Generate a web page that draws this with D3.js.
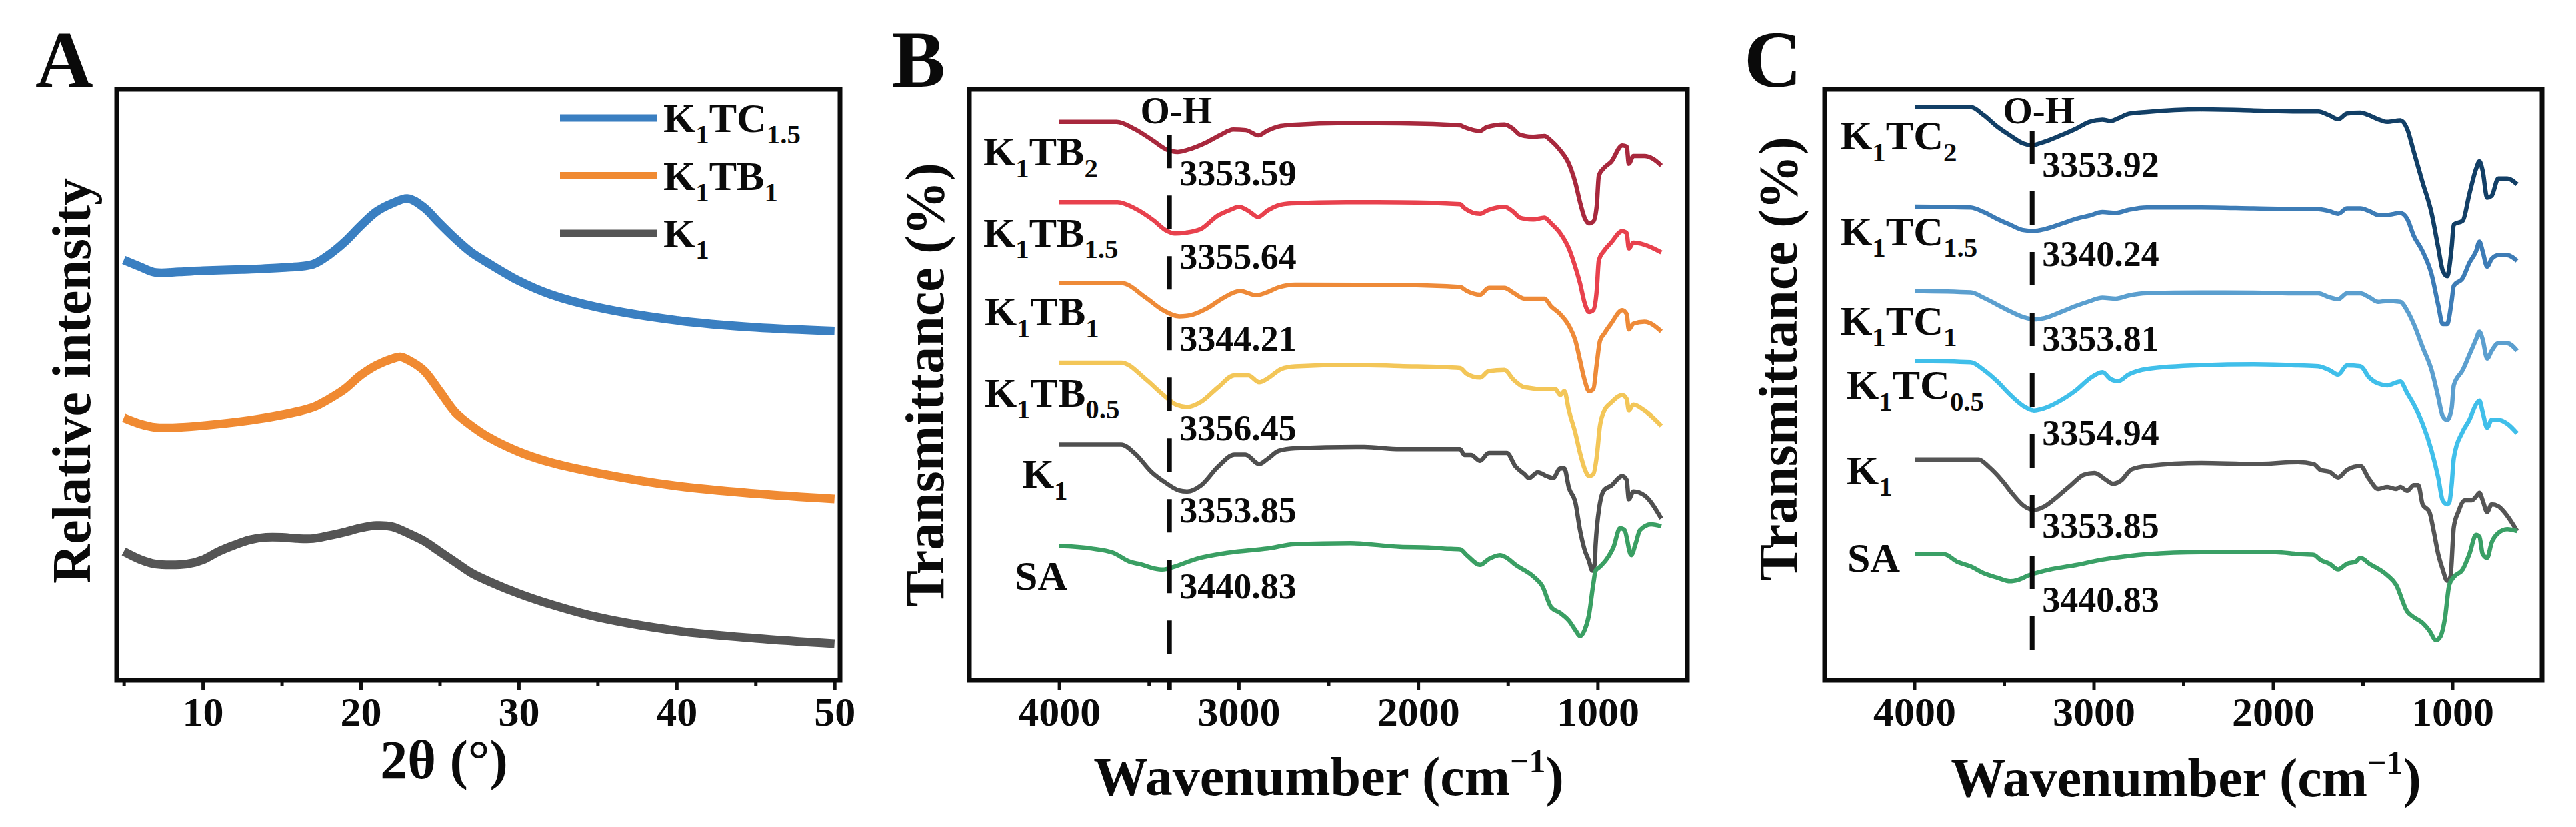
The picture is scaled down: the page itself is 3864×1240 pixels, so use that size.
<!DOCTYPE html>
<html><head><meta charset="utf-8">
<script src="https://cdn.jsdelivr.net/npm/d3@7"></script>
<style>
body{margin:0;background:#fff}
svg{display:block}
text{font-family:"Liberation Serif","Times New Roman",serif;font-weight:bold;fill:#0a0a0a}
</style>
</head><body>
<svg id="chart" width="3864" height="1240"></svg>
<script>
// ---------------- DATA ----------------
// Panel A: XRD, 2θ (deg) vs relative intensity (offset, a.u. 0-100 of frame)
const xrdNames = ["K_1TC_1.5", "K_1TB_1", "K_1"];
const xrdColors = ["#3a7fc1", "#f08a32", "#555555"];
const xrd_K1TC15 = [[5,71.1],[6,70.0],[7,69.0],[8.5,69.1],[10,69.3],[12.5,69.5],[15,69.8],[17,70.4],[18,72.0],[19,74.2],[20,76.9],[21,79.3],[22,80.7],[23,81.5],[24,80.0],[25,77.3],[26,74.7],[27,72.4],[28,70.7],[30,67.6],[32,65.3],[35,63.1],[40,60.9],[45,59.7],[50,59.1]];
const xrd_K1TB1 = [[5,44.4],[6,43.4],[7,42.8],[8.5,42.8],[10,43.1],[13,44.0],[15,44.9],[17,46.2],[18,47.6],[19,49.3],[20,51.6],[21,53.3],[22,54.4],[22.5,54.7],[23,54.2],[24,52.4],[25,48.9],[26,45.3],[27,43.1],[28,41.3],[30,38.7],[32,36.9],[35,35.1],[40,32.9],[45,31.6],[50,30.7]];
const xrd_K1 = [[5,21.8],[6,20.5],[7,19.7],[9,19.7],[10,20.4],[11,21.8],[12,22.9],[13,23.8],[14,24.2],[15,24.2],[16,24.0],[17,24.0],[18,24.5],[19,25.1],[20,25.8],[21,26.2],[22,26.0],[23,24.9],[24,23.6],[25,21.8],[26,20.0],[27,18.2],[28,16.9],[30,14.7],[32,12.9],[35,10.7],[40,8.4],[45,7.1],[50,6.2]];
const xrdTicksMajor = [10,20,30,40,50];
const xrdTicksMinor = [5,15,25,35,45];

// Panel B: FTIR, wavenumber (cm-1) vs transmittance (offset)
const ftirBNames = ["K_1TB_2","K_1TB_1.5","K_1TB_1","K_1TB_0.5","K_1","SA"];
const ftirBColors = ["#a8283d","#e8414d","#ee8a38","#f3c658","#4f4f4f","#3a9f63"];
const ftirBPeaks = ["3353.59","3355.64","3344.21","3356.45","3353.85","3440.83"];
const B_K1TB2 = [[4000,94.5],[3680,94.5],[3580,93.3],[3480,91.4],[3400,89.8],[3340,89.4],[3280,89.8],[3180,91.0],[3100,92.3],[3030,93.2],[2960,93.1],[2890,92.2],[2840,93.0],[2780,93.7],[2700,94.0],[2400,94.3],[2101,94.25],[1766,93.9],[1742,93.6],[1655,92.95],[1618,93.6],[1519,94.06],[1469,93.28],[1432,92.3],[1358,91.97],[1296,92.1],[1259,91.3],[1209,89.7],[1160,87.4],[1123,84.1],[1098,80.9],[1073,78.3],[1048,77.3],[1024,77.6],[1005,80.2],[993,85.4],[962,86.75],[925,87.7],[863,90.5],[838,90.3],[826,87.4],[801,88.7],[739,88.7],[690,88.2],[645,87.1]];
const B_K1TB15 = [[4000,80.9],[3674,80.9],[3581,79.9],[3475,77.85],[3409,76.2],[3355,75.6],[3302,75.7],[3210,76.35],[3117,78.6],[3050,79.55],[2997,80.1],[2944,79.4],[2891,78.4],[2838,79.5],[2785,80.3],[2705,80.7],[2400,80.9],[2101,80.88],[1766,80.55],[1742,79.9],[1655,78.92],[1618,79.45],[1519,80.1],[1469,79.25],[1432,78.27],[1358,77.95],[1296,78.27],[1259,77.3],[1209,75.66],[1160,73.05],[1123,69.79],[1098,67.18],[1073,63.92],[1048,62.29],[1024,62.62],[1005,65.88],[993,71.1],[962,72.73],[925,74.03],[863,75.99],[838,75.66],[826,73.05],[801,74.03],[739,73.7],[645,72.4]];
const B_K1TB1 = [[4000,67.2],[3654,67.2],[3515,64.7],[3423,62.65],[3331,61.58],[3269,61.75],[3177,62.9],[3085,64.7],[2992,65.86],[2900,65.14],[2845,65.6],[2777,66.48],[2685,66.93],[2101,66.86],[1766,66.53],[1729,65.88],[1655,65.23],[1606,66.4],[1519,66.4],[1469,65.55],[1407,64.57],[1296,64.57],[1259,63.27],[1209,61.96],[1160,60.0],[1123,57.4],[1098,54.14],[1073,50.87],[1048,48.92],[1024,49.24],[1005,53.48],[987,57.4],[962,58.7],[925,60.33],[863,62.62],[838,61.96],[826,59.35],[801,60.33],[739,60.66],[645,59.03]];
const B_K1TB05 = [[4000,53.73],[3654,53.73],[3515,50.87],[3423,48.37],[3346,46.6],[3285,46.23],[3208,47.12],[3115,49.53],[3023,51.59],[2946,51.59],[2885,50.42],[2838,51.05],[2762,52.66],[2685,53.1],[2377,53.37],[2101,53.16],[1766,52.83],[1729,51.85],[1655,51.2],[1606,52.31],[1519,52.5],[1469,50.87],[1407,49.57],[1296,49.24],[1234,49.24],[1209,48.26],[1185,48.92],[1160,45.65],[1123,41.74],[1098,38.48],[1073,35.87],[1048,34.57],[1024,34.89],[1005,37.83],[987,43.05],[962,45.65],[925,46.96],[863,48.26],[838,47.6],[826,45.65],[801,46.63],[739,45.65],[645,43.05]];
const B_K1 = [[4000,39.9],[3654,39.9],[3577,38.38],[3485,35.26],[3408,33.48],[3331,32.14],[3285,31.96],[3208,33.03],[3115,36.15],[3023,38.2],[2962,38.2],[2885,36.6],[2838,37.49],[2777,38.83],[2685,39.27],[2300,39.5],[2101,39.13],[1766,39.13],[1742,38.15],[1705,38.15],[1655,37.17],[1606,38.48],[1506,38.48],[1457,36.2],[1407,34.89],[1383,34.24],[1333,35.22],[1284,34.57],[1247,34.24],[1209,35.87],[1185,35.87],[1160,32.61],[1123,30.0],[1098,25.43],[1073,22.17],[1048,20.21],[1030,18.58],[1017,19.56],[1011,23.0],[987,30.0],[962,32.28],[925,32.93],[863,34.57],[838,33.91],[826,30.65],[801,31.96],[739,31.3],[645,27.39]];
const B_SA = [[4000,22.77],[3823,22.33],[3700,21.62],[3608,20.1],[3546,19.65],[3469,18.94],[3423,18.76],[3362,19.2],[3238,20.54],[3054,21.62],[2838,22.33],[2685,23.04],[2377,23.22],[2101,22.6],[1940,22.5],[1853,22.3],[1766,22.17],[1729,21.2],[1655,19.56],[1606,20.54],[1544,21.2],[1506,20.74],[1457,19.56],[1358,17.6],[1308,15.97],[1259,12.39],[1209,11.41],[1160,10.1],[1123,8.47],[1098,7.49],[1073,8.47],[1048,11.08],[1024,16.3],[1011,18.58],[987,19.23],[949,20.54],[912,22.5],[875,25.76],[850,25.43],[813,21.2],[788,23.15],[764,25.43],[702,26.41],[645,26.09]];
const ftirBSeries = [B_K1TB2, B_K1TB15, B_K1TB1, B_K1TB05, B_K1, B_SA];
const ohB = 3385;

// Panel C
const ftirCNames = ["K_1TC_2","K_1TC_1.5","K_1TC_1","K_1TC_0.5","K_1","SA"];
const ftirCColors = ["#123f66","#3d7cb6","#5b9fcf","#40bfea","#555555","#3aa066"];
const ftirCPeaks = ["3353.92","3340.24","3353.81","3354.94","3353.85","3440.83"];
const C_K1TC2 = [[3998,97.0],[3686,97.0],[3613,95.63],[3539,93.73],[3466,92.2],[3392,90.83],[3341,90.52],[3304,90.83],[3245,91.44],[3172,92.35],[3098,93.34],[3025,94.49],[2951,94.87],[2907,94.64],[2863,95.1],[2804,95.86],[2704,96.17],[2400,96.6],[2108,96.43],[1860,96.24],[1748,96.24],[1686,95.59],[1637,94.94],[1587,95.91],[1513,96.04],[1463,95.59],[1414,94.94],[1364,94.49],[1290,94.75],[1252,93.32],[1215,89.43],[1166,84.25],[1116,79.06],[1079,73.23],[1054,69.34],[1029,68.37],[1004,73.23],[992,77.12],[942,77.77],[905,82.3],[868,86.52],[849,87.81],[831,86.19],[806,81.66],[781,81.98],[744,84.9],[694,84.9],[639,83.92]];
const C_K1TC15 = [[3998,80.14],[3686,79.99],[3613,79.22],[3539,78.08],[3466,77.08],[3392,76.17],[3333,76.02],[3274,76.32],[3172,77.31],[3098,78.08],[3025,78.61],[2951,79.22],[2878,79.07],[2804,79.6],[2704,79.99],[2400,80.0],[2108,79.84],[1860,79.71],[1748,79.71],[1686,79.39],[1637,78.93],[1587,79.84],[1513,79.84],[1463,79.39],[1414,78.74],[1364,78.74],[1290,79.06],[1252,78.09],[1215,75.18],[1166,72.58],[1116,68.69],[1079,63.51],[1054,60.27],[1029,60.27],[1004,64.16],[992,66.75],[942,68.05],[905,70.64],[868,72.58],[849,74.2],[831,72.58],[806,69.99],[781,71.29],[744,71.93],[694,71.93],[639,70.96]];
const C_K1TC1 = [[3998,65.86],[3686,65.63],[3613,64.72],[3539,63.57],[3466,62.43],[3392,61.44],[3333,61.05],[3274,61.28],[3172,62.43],[3098,63.34],[3025,64.11],[2951,64.72],[2878,64.56],[2804,65.1],[2704,65.48],[2400,65.6],[2108,65.58],[1860,65.45],[1748,65.45],[1686,64.8],[1637,64.48],[1587,65.45],[1513,65.45],[1463,64.8],[1414,64.03],[1364,64.16],[1290,64.03],[1252,62.54],[1215,60.27],[1166,56.38],[1116,52.49],[1079,47.95],[1054,44.72],[1029,44.07],[1004,46.01],[992,49.9],[942,52.49],[905,55.08],[868,57.68],[849,58.97],[831,57.68],[806,54.44],[781,55.73],[744,57.03],[694,57.03],[639,55.73]];
const C_K1TC05 = [[3998,54.03],[3686,53.8],[3613,52.5],[3539,50.6],[3466,48.31],[3392,46.4],[3333,45.64],[3274,46.02],[3172,47.54],[3098,49.07],[3025,50.98],[2951,52.12],[2907,50.98],[2863,50.6],[2804,51.74],[2704,52.66],[2400,53.3],[2108,53.46],[1860,53.27],[1748,53.14],[1686,52.49],[1637,51.71],[1587,53.27],[1513,53.14],[1463,51.2],[1414,50.22],[1364,49.9],[1290,50.55],[1252,48.6],[1215,46.66],[1166,43.42],[1116,38.88],[1079,34.35],[1054,30.46],[1029,29.81],[1017,30.13],[1004,33.05],[992,37.59],[942,42.12],[905,44.07],[868,46.66],[849,47.31],[831,45.36],[806,42.77],[781,44.07],[744,44.07],[694,43.42],[639,41.8]];
const C_K1 = [[3998,37.39],[3642,37.39],[3583,36.1],[3510,33.8],[3451,31.51],[3392,29.6],[3333,28.84],[3274,29.45],[3201,31.13],[3127,33.04],[3054,34.8],[2995,35.1],[2936,34.03],[2892,33.27],[2848,33.8],[2789,35.71],[2700,36.3],[2400,36.8],[2108,36.61],[1860,36.94],[1773,36.61],[1736,35.64],[1686,35.32],[1637,34.35],[1587,35.64],[1513,36.29],[1463,34.02],[1414,32.4],[1364,32.73],[1314,32.4],[1290,32.73],[1252,32.08],[1215,33.05],[1190,33.05],[1166,29.81],[1128,28.51],[1104,25.27],[1079,21.38],[1054,18.79],[1029,16.85],[1011,17.49],[992,25.92],[967,28.51],[930,30.46],[893,30.46],[868,31.1],[849,31.75],[831,30.46],[806,28.51],[781,29.81],[744,29.49],[694,27.86],[639,25.27]];
const C_SA = [[3998,21.36],[3834,21.36],[3760,20.06],[3686,19.3],[3613,18.15],[3539,17.39],[3466,16.78],[3422,17.01],[3363,17.77],[3245,18.76],[3098,19.53],[2951,20.44],[2804,21.05],[2704,21.36],[2400,21.7],[2108,21.71],[1984,21.71],[1860,21.38],[1773,21.25],[1736,20.41],[1686,19.76],[1637,18.79],[1587,19.76],[1538,20.09],[1513,20.74],[1463,19.76],[1364,17.82],[1314,16.2],[1252,11.66],[1215,10.69],[1166,9.72],[1128,8.42],[1091,6.8],[1066,7.45],[1042,10.37],[1017,16.2],[992,17.49],[942,18.79],[905,21.38],[868,24.62],[849,24.3],[831,21.38],[806,20.74],[781,23.33],[744,24.95],[694,25.6],[639,25.27]];
const ftirCSeries = [C_K1TC2, C_K1TC15, C_K1TC1, C_K1TC05, C_K1, C_SA];
const ohC = 3343;

const ftirTicksMajor = [4000,3000,2000,1000];
const ftirTicksMinor = [3500,2500,1500];

// ---------------- LAYOUT ----------------
const svg = d3.select("#chart");
const yTop = 134, yBot = 1020;
const y = d3.scaleLinear().domain([0,100]).range([yBot, yTop]);
const xA = d3.scaleLinear().domain([4.55, 50.35]).range([175, 1260]);
const xB = d3.scaleLinear().domain([4500, 500]).range([1454, 2531]);
const xC = d3.scaleLinear().domain([4500, 500]).range([2737, 3813]);

// label anchors (data coords) for FTIR series labels
const labelPosB = [[4422,87.1],[4422,73.4],[4415,60.0],[4415,46.3],[4207,32.6],[4247,15.3]];
const peakPosB = [83.7,69.6,55.8,40.6,26.7,13.9];
const labelPosC = [[4414,89.8],[4414,73.6],[4414,58.5],[4377,47.6],[4377,33.2],[4374,18.4]];
const peakPosC = [85.2,70.1,55.8,39.8,24.2,11.6];

function richText(g, x, yy, str, size, anchor) {
  const t = g.append("text").attr("x", x).attr("y", yy).attr("font-size", size)
    .attr("text-anchor", anchor || "start");
  const parts = str.split(/(_[0-9.]+)/).filter(s => s.length);
  let shifted = false;
  const sh = size * 0.28;
  parts.forEach(p => {
    if (p[0] === "_") {
      t.append("tspan").attr("font-size", size * 0.66).attr("dy", shifted ? 0 : sh).text(p.slice(1));
      shifted = true;
    } else {
      t.append("tspan").attr("dy", shifted ? -sh : 0).text(p);
      shifted = false;
    }
  });
  return t;
}

function xAxis(x, major, minor, fmt) {
  const g = svg.append("g").attr("transform", `translate(0,${yBot})`);
  g.call(d3.axisBottom(x).tickValues(major).tickSize(14).tickSizeOuter(0).tickFormat(fmt));
  g.attr("font-family", null).attr("font-size", null);
  g.select(".domain").remove();
  g.selectAll(".tick line").attr("stroke", "#111").attr("stroke-width", 5);
  g.selectAll(".tick text").attr("y", 68).attr("dy", 0).attr("font-size", 62).attr("fill", "#0a0a0a")
    .style("font-family", '"Liberation Serif","Times New Roman",serif');
  const m = svg.append("g").attr("transform", `translate(0,${yBot})`);
  m.call(d3.axisBottom(x).tickValues(minor).tickSize(9).tickSizeOuter(0).tickFormat(""));
  m.select(".domain").remove();
  m.selectAll(".tick line").attr("stroke", "#111").attr("stroke-width", 5);
}

function frame(x0, x1) {
  svg.append("rect").attr("x", x0).attr("y", yTop).attr("width", x1 - x0).attr("height", yBot - yTop)
    .attr("fill", "none").attr("stroke", "#0a0a0a").attr("stroke-width", 7);
}

// ---------------- PANEL A ----------------
const lineA = d3.line().x(d => xA(d[0])).y(d => y(d[1])).curve(d3.curveCatmullRom.alpha(0.5));
[xrd_K1TC15, xrd_K1TB1, xrd_K1].forEach((s, i) => {
  svg.append("path").attr("d", lineA(s)).attr("fill", "none")
    .attr("stroke", xrdColors[i]).attr("stroke-width", 13).attr("stroke-linejoin", "round");
});
// legend
xrdNames.forEach((n, i) => {
  const ly = 177 + i * 86.5;
  svg.append("line").attr("x1", 840).attr("x2", 985).attr("y1", ly).attr("y2", ly)
    .attr("stroke", xrdColors[i]).attr("stroke-width", 11);
  richText(svg, 995, ly + 21, n, 62);
});
xAxis(xA, xrdTicksMajor, xrdTicksMinor, d3.format("d"));
frame(175, 1260);
svg.append("text").attr("x", 53).attr("y", 130).attr("font-size", 120).text("A");
svg.append("text").attr("transform", "translate(135,571) rotate(-90)").attr("text-anchor", "middle")
  .attr("font-size", 82).text("Relative intensity");
svg.append("text").attr("x", 666).attr("y", 1167).attr("text-anchor", "middle").attr("font-size", 82).text("2θ (°)");

// ---------------- FTIR PANELS ----------------
function ftirPanel(x, series, names, colors, peaks, labelPos, peakPos, oh, dashTop, dashBottom, x0, x1, letter, letterX, yTitleX, yTitleY, xTitleX, xTitleY) {
  const line = d3.line().x(d => x(d[0])).y(d => y(d[1])).curve(d3.curveMonotoneX);
  series.forEach((s, i) => {
    svg.append("path").attr("d", line(s)).attr("fill", "none")
      .attr("stroke", colors[i]).attr("stroke-width", 6.5).attr("stroke-linejoin", "round");
  });
  svg.append("line").attr("x1", x(oh)).attr("x2", x(oh)).attr("y1", y(dashTop)).attr("y2", y(dashBottom))
    .attr("stroke", "#0a0a0a").attr("stroke-width", 7).attr("stroke-dasharray", "50,41");
  svg.append("text").attr("x", x(oh) + 10).attr("y", y(94.3)).attr("text-anchor", "middle")
    .attr("font-size", 57).text("O-H");
  names.forEach((n, i) => {
    richText(svg, x(labelPos[i][0]), y(labelPos[i][1]), n, 62);
    svg.append("text").attr("x", x(oh) + 15).attr("y", y(peakPos[i])).attr("font-size", 54).text(peaks[i]);
  });
  xAxis(x, ftirTicksMajor, ftirTicksMinor, d3.format("d"));
  frame(x0, x1);
  svg.append("text").attr("x", letterX).attr("y", 130).attr("font-size", 120).text(letter);
  const yt = svg.append("text").attr("transform", `translate(${yTitleX},${yTitleY}) rotate(-90)`)
    .attr("text-anchor", "middle").attr("font-size", 82);
  yt.append("tspan").text("Transmittance (%)");
  const xt = svg.append("text").attr("x", xTitleX).attr("y", xTitleY).attr("text-anchor", "middle").attr("font-size", 82);
  xt.append("tspan").text("Wavenumber (cm");
  xt.append("tspan").attr("font-size", 50).attr("dy", -34).text("−1");
  xt.append("tspan").attr("dy", 34).text(")");
}

ftirPanel(xB, ftirBSeries, ftirBNames, ftirBColors, ftirBPeaks, labelPosB, peakPosB, ohB, 92.3, -1.7,
  1454, 2531, "B", 1338, 1415, 577, 1993, 1192);
ftirPanel(xC, ftirCSeries, ftirCNames, ftirCColors, ftirCPeaks, labelPosC, peakPosC, ohC, 93.0, 5.0,
  2737, 3813, "C", 2616, 2695, 538, 3279, 1194);
</script>
</body></html>
